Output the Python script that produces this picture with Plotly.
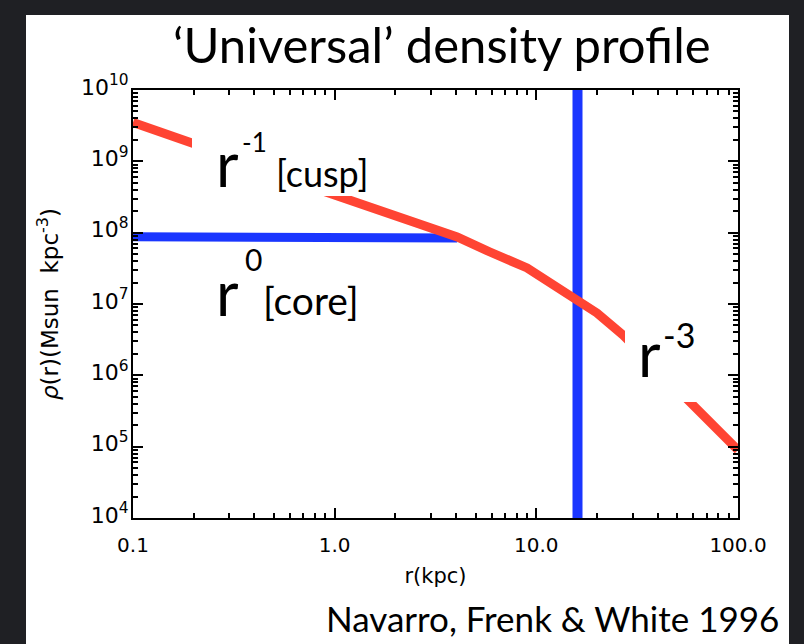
import plotly.graph_objects as go

# ---- data ----
red_r = [0.1, 0.196, 0.875, 4.05, 5.89, 9.0, 20.0, 26.9, 100.0]
red_rho = [3.50e9, 1.81e9, 3.84e8, 8.69e7, 5.36e7, 3.20e7, 7.48e6, 3.67e6, 8.97e4]
core_r = [0.1, 4.05]
core_rho = [8.77e7, 8.41e7]
rs_r = [16.0, 16.0]
rs_rho = [1e4, 1e10]

x_tickvals = [0.1, 1, 10, 100]
x_ticktext = ["0.1", "1.0", "10.0", "100.0"]
y_exponents = [4, 5, 6, 7, 8, 9, 10]

RED = "#ff4433"
BLUE = "#1a36ff"
BG = "#1f2024"

W, H = 804, 644
L, R, T, B = 133, 738, 90, 518  # plot area in pixels


def px(x):
    return (x - L) / (R - L)


def py(y):
    return (B - y) / (B - T)


fig = go.Figure()
fig.add_trace(go.Scatter(x=rs_r, y=rs_rho, mode="lines",
                         line=dict(color=BLUE, width=10), hoverinfo="skip"))
fig.add_trace(go.Scatter(x=core_r, y=core_rho, mode="lines",
                         line=dict(color=BLUE, width=9), hoverinfo="skip"))
fig.add_trace(go.Scatter(x=red_r, y=red_rho, mode="lines",
                         line=dict(color=RED, width=9), hoverinfo="skip"))

minor_x = [m * 10 ** e for e in range(-1, 2) for m in range(2, 10)]
minor_y = [m * 10 ** e for e in range(4, 10) for m in range(2, 10)]

fig.update_xaxes(type="log", range=[-1, 2], showgrid=False, zeroline=False,
                 showline=True, linecolor="black", linewidth=2, mirror="ticks",
                 ticks="inside", ticklen=10, tickwidth=1.5, tickcolor="black",
                 tickmode="array", tickvals=x_tickvals, ticktext=x_ticktext,
                 tickfont=dict(family="DejaVu Sans", size=20, color="black"),
                 ticklabelstandoff=8,
                 minor=dict(tickmode="array", tickvals=minor_x, ticks="inside",
                            ticklen=5, tickwidth=1.5, tickcolor="black", showgrid=False),
                 title=dict(text="r(kpc)", font=dict(family="DejaVu Sans", size=21, color="black"),
                            standoff=12))
fig.update_yaxes(type="log", range=[4, 10], showgrid=False, zeroline=False,
                 showline=True, linecolor="black", linewidth=2, mirror="ticks",
                 ticks="inside", ticklen=10, tickwidth=1.5, tickcolor="black",
                 tickmode="array", tickvals=[10 ** e for e in y_exponents],
                 ticktext=["10<sup>%d</sup>" % e for e in y_exponents],
                 tickfont=dict(family="DejaVu Sans", size=22, color="black"),
                 ticklabelstandoff=-2, ticklabelshift=-3,
                 minor=dict(tickmode="array", tickvals=minor_y, ticks="inside",
                            ticklen=5, tickwidth=1.5, tickcolor="black", showgrid=False),
                 title=dict(text="<i>ρ</i>(r)(Msun  kpc<sup>-3</sup>)",
                            font=dict(family="DejaVu Sans", size=23, color="black"),
                            standoff=16))

# white slide panel and label backgrounds
shapes = [
    dict(type="rect", xref="paper", yref="paper", x0=px(26), x1=px(789), y0=py(648), y1=py(15),
         fillcolor="white", line=dict(width=0), layer="below"),
    dict(type="rect", xref="paper", yref="paper", x0=px(192), x1=px(372), y0=py(196), y1=py(106),
         fillcolor="white", line=dict(width=0), layer="above"),
    dict(type="rect", xref="paper", yref="paper", x0=px(625), x1=px(705), y0=py(402), y1=py(318),
         fillcolor="white", line=dict(width=0), layer="above"),
]

GF = "Lato"


def ann(text, x, y, size, xanchor="left", yanchor="middle"):
    return dict(text=text, xref="paper", yref="paper", x=px(x), y=py(y), showarrow=False,
                xanchor=xanchor, yanchor=yanchor, font=dict(family=GF, size=size, color="black"))


annotations = [
    ann("‘Universal’ density profile", 442, 44, 49, xanchor="center"),
    ann("Navarro, Frenk & White 1996", 781, 618, 35, xanchor="right"),
    ann("r", 214, 163, 62),
    ann("-1", 240, 142, 26),
    ann("[cusp]", 274, 173, 36),
    ann("r", 214, 292, 62),
    ann("0", 243, 259, 30),
    ann("[core]", 261, 300, 39),
    ann("r", 636, 353, 62),
    ann("-3", 661, 334, 34),
]

fig.update_layout(width=W, height=H, margin=dict(l=L, r=W - R, t=T, b=H - B),
                  paper_bgcolor=BG, plot_bgcolor="white", showlegend=False,
                  shapes=shapes, annotations=annotations)

fig.write_html("out.html", config={"displayModeBar": False},
               post_script="document.body.style.margin='0';"
                           "document.body.style.background='%s';" % BG)
